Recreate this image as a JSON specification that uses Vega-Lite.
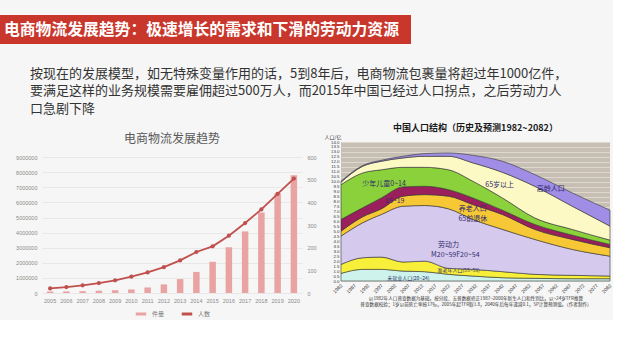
{
  "$schema": "https://vega.github.io/schema/vega-lite/v6.json",
  "background": "#f6f6f6",
  "padding": {"left": 0, "top": 15, "right": 0, "bottom": 0},
  "config": {
    "view": {"stroke": null},
    "font": "Liberation Sans",
    "axis": {"labelOverlap": false},
    "legend": {"layout": {"bottom": {"anchor": "middle"}}}
  },
  "spacing": 8,
  "resolve": {"scale": {"color": "independent"}, "legend": {"color": "independent"}},
  "vconcat": [
    {
      "width": 411,
      "height": 29,
      "view": {"fill": "#c9372c", "stroke": null},
      "data": {"values": [{"t": "电商物流发展趋势：极速增长的需求和下滑的劳动力资源"}]},
      "mark": {"type": "text", "align": "left", "baseline": "middle", "font": "Noto Sans CJK SC", "fontSize": 15.8, "fontWeight": "bold", "color": "#ffffff"},
      "encoding": {"text": {"field": "t"}, "x": {"value": 4}, "y": {"value": 15}}
    },
    {
      "width": 580,
      "height": 60,
      "data": {"values": [
        {"line": 1, "t": "按现在的发展模型，如无特殊变量作用的话，5到8年后，电商物流包裹量将超过年1000亿件，"},
        {"line": 2, "t": "要满足这样的业务规模需要雇佣超过500万人，而2015年中国已经过人口拐点，之后劳动力人"},
        {"line": 3, "t": "口急剧下降"}
      ]},
      "mark": {"type": "text", "align": "left", "baseline": "middle", "font": "Noto Sans CJK SC", "fontSize": 13, "lineHeight": 15, "color": "#333333"},
      "encoding": {
        "text": {"field": "t"},
        "x": {"value": 30},
        "y": {"field": "line", "type": "ordinal", "scale": {"type": "point", "range": [21.5, 56.5], "padding": 0}, "axis": null}
      }
    },
    {
      "spacing": 7,
      "resolve": {"scale": {"color": "independent"}, "legend": {"color": "independent"}},
      "hconcat": [
        {
          "width": 8,
          "height": 1,
          "data": {"values": []},
          "mark": "rect",
          "encoding": {}
        },
        {
          "width": 260,
          "height": 151,
          "title": {"text": "电商物流发展趋势", "font": "Noto Sans CJK SC", "fontSize": 12, "fontWeight": "normal", "color": "#595959", "offset": -4},
          "data": {"values": [
            {"year": "2005", "件量": 99000, "人数": 20},
            {"year": "2006", "件量": 106000, "人数": 26},
            {"year": "2007", "件量": 120000, "人数": 34},
            {"year": "2008", "件量": 151000, "人数": 44},
            {"year": "2009", "件量": 186000, "人数": 56},
            {"year": "2010", "件量": 234000, "人数": 72},
            {"year": "2011", "件量": 367000, "人数": 91},
            {"year": "2012", "件量": 569000, "人数": 114},
            {"year": "2013", "件量": 919000, "人数": 144},
            {"year": "2014", "件量": 1396000, "人数": 181},
            {"year": "2015", "件量": 2067000, "人数": 206},
            {"year": "2016", "件量": 3030000, "人数": 253},
            {"year": "2017", "件量": 4080000, "人数": 309},
            {"year": "2018", "件量": 5330000, "人数": 369},
            {"year": "2019", "件量": 6600000, "人数": 438},
            {"year": "2020", "件量": 7800000, "人数": 505}
          ]},
          "encoding": {
            "x": {
              "field": "year", "type": "ordinal", "title": null,
              "scale": {"paddingInner": 0.6, "paddingOuter": 0.3},
              "axis": {"labelAngle": 0, "labelFontSize": 5.5, "labelColor": "#8a8a8a", "ticks": false, "domain": false, "labelPadding": 5}
            }
          },
          "layer": [
            {
              "mark": {"type": "bar"},
              "encoding": {
                "y": {
                  "field": "件量", "type": "quantitative", "title": null,
                  "scale": {"domain": [0, 10000000], "nice": false},
                  "axis": {"values": [0, 1000000, 2000000, 3000000, 4000000, 5000000, 6000000, 7000000, 8000000, 9000000], "tickCount": 20, "format": "d", "labelFontSize": 5.5, "labelColor": "#8a8a8a", "ticks": false, "domain": false, "labelPadding": 5, "gridColor": "#e2e2e2", "gridWidth": 0.7}
                },
                "color": {
                  "datum": "件量", "type": "nominal",
                  "scale": {"domain": ["件量", "人数"], "range": ["#e8a3a2", "#c0504d"]},
                  "legend": {"title": null, "orient": "bottom", "direction": "horizontal", "symbolType": "stroke", "symbolStrokeWidth": 3, "symbolSize": 110, "labelFontSize": 6, "labelColor": "#777777", "labelFont": "Noto Sans CJK SC", "offset": 3, "columnPadding": 10}
                }
              }
            },
            {
              "mark": {"type": "line", "strokeWidth": 1.8, "point": {"filled": true, "size": 18}},
              "encoding": {
                "y": {
                  "field": "人数", "type": "quantitative", "title": null,
                  "scale": {"domain": [0, 666.67], "nice": false},
                  "axis": {"orient": "right", "values": [0, 100, 200, 300, 400, 500, 600], "tickCount": 20, "labelFontSize": 5.5, "labelColor": "#8a8a8a", "ticks": false, "domain": false, "labelPadding": 5, "grid": false}
                },
                "color": {"datum": "人数", "type": "nominal"}
              }
            }
          ],
          "resolve": {"scale": {"y": "independent"}}
        },
        {
          "width": 269,
          "height": 139,
          "view": {"fill": "#c7bfb3", "stroke": null},
          "title": {"text": "中国人口结构（历史及预测1982~2082）", "font": "Noto Sans CJK SC", "fontSize": 9, "fontWeight": "bold", "color": "#1a1a1a", "offset": 1, "frame": "group"},
          "layer": [
            {
              "data": {"values": [
                {"year": 1982, "c1": 0.77, "c2": 0.90, "c3": 2.85, "c4": 0.50, "c5": 1.18, "c6": 3.50, "c7": 0.25, "c8": 0.10},
                {"year": 1990, "c1": 1.17, "c2": 1.17, "c3": 3.52, "c4": 0.60, "c5": 0.91, "c6": 3.51, "c7": 0.67, "c8": 0.07},
                {"year": 1997, "c1": 1.17, "c2": 1.24, "c3": 4.29, "c4": 0.57, "c5": 1.10, "c6": 2.83, "c7": 0.86, "c8": 0.10},
                {"year": 2005, "c1": 1.00, "c2": 0.91, "c3": 5.62, "c4": 1.01, "c5": 0.94, "c6": 1.97, "c7": 0.94, "c8": 0.17},
                {"year": 2013, "c1": 0.94, "c2": 1.06, "c3": 5.60, "c4": 1.10, "c5": 0.84, "c6": 1.91, "c7": 1.11, "c8": 0.27},
                {"year": 2022, "c1": 0.67, "c2": 0.60, "c3": 6.00, "c4": 1.27, "c5": 0.66, "c6": 2.00, "c7": 1.36, "c8": 0.34},
                {"year": 2031, "c1": 0.50, "c2": 0.67, "c3": 5.03, "c4": 1.50, "c5": 0.67, "c6": 1.68, "c7": 1.85, "c8": 0.76},
                {"year": 2042, "c1": 0.33, "c2": 0.61, "c3": 4.26, "c4": 1.50, "c5": 0.43, "c6": 1.24, "c7": 2.58, "c8": 1.11},
                {"year": 2054, "c1": 0.27, "c2": 0.40, "c3": 3.52, "c4": 1.01, "c5": 0.50, "c6": 0.66, "c7": 3.18, "c8": 1.18},
                {"year": 2068, "c1": 0.23, "c2": 0.34, "c3": 2.61, "c4": 1.01, "c5": 0.43, "c6": 0.57, "c7": 2.34, "c8": 1.34},
                {"year": 2082, "c1": 0.23, "c2": 0.27, "c3": 2.00, "c4": 0.85, "c5": 0.33, "c6": 0.44, "c7": 1.41, "c8": 1.60}
              ]},
              "transform": [{"fold": ["c1", "c2", "c3", "c4", "c5", "c6", "c7", "c8"], "as": ["g", "v"]}],
              "mark": {"type": "area", "interpolate": "monotone", "stroke": "#333333", "strokeWidth": 0.6},
              "encoding": {
                "x": {
                  "field": "year", "type": "quantitative",
                  "scale": {"domain": [1982, 2082], "nice": false, "zero": false},
                  "axis": {
                    "values": [1982, 1987, 1992, 1997, 2002, 2007, 2012, 2017, 2022, 2027, 2032, 2037, 2042, 2047, 2052, 2057, 2062, 2067, 2072, 2077, 2082],
                    "tickCount": 40,
                    "format": "d", "labelAngle": -45, "labelAlign": "right", "labelBaseline": "middle", "labelFontSize": 5, "labelColor": "#333333", "ticks": false, "domain": false, "labelPadding": 3, "grid": false, "labelOverlap": false,
                    "title": ["以1982年人口普查数据为基础，按分段、五普数据修正1987~2000年新生人口和性别比，以~24岁TFR推算", "普查数据校验；1岁以前死亡率按17‰，2005年起TFR取1.8，2040年后每年递减0.1，5P计算预测值。（作者制作）"],
                    "titleFontSize": 4.6, "titleFont": "Noto Sans CJK SC", "titleColor": "#333333", "titleFontWeight": "normal", "titlePadding": 2, "titleLineHeight": 6
                  }
                },
                "y": {
                  "field": "v", "type": "quantitative", "stack": "zero",
                  "scale": {"domain": [0, 14], "nice": false},
                  "axis": {
                    "values": [0, 0.5, 1, 1.5, 2, 2.5, 3, 3.5, 4, 4.5, 5, 5.5, 6, 6.5, 7, 7.5, 8, 8.5, 9, 9.5, 10, 10.5, 11, 11.5, 12, 12.5, 13, 13.5, 14],
                    "tickCount": 40,
                    "format": ".1f", "labelFontSize": 4.4, "labelColor": "#333333", "ticks": false, "domain": false, "labelPadding": 2, "gridColor": "#e3ded6", "gridWidth": 0.8, "labelOverlap": false,
                    "title": "人口/亿", "titleAngle": 0, "titleAlign": "left", "titleBaseline": "bottom", "titleX": -17, "titleY": -3, "titleFontSize": 5, "titleFontWeight": "normal", "titleFont": "Noto Sans CJK SC", "titleColor": "#333333"
                  }
                },
                "color": {
                  "field": "g", "type": "nominal",
                  "scale": {"domain": ["c1", "c2", "c3", "c4", "c5", "c6", "c7", "c8"], "range": ["#cdf3ec", "#f7ef3a", "#d6c9ee", "#f6c836", "#9a1f5c", "#8bd13b", "#fdf9c4", "#a08de6"]},
                  "legend": null
                },
                "order": {"field": "g", "sort": "ascending"}
              }
            },
            {
              "data": {"values": [
                {"year": 1998, "v": 9.78, "t": "少年儿童0~14"},
                {"year": 2002, "v": 8.1, "t": "15~19"},
                {"year": 2031, "v": 7.25, "t": "养老人口"},
                {"year": 2031, "v": 6.2, "t": "65前退休"},
                {"year": 2041, "v": 9.7, "t": "65岁以上"},
                {"year": 2060, "v": 9.28, "t": "高龄人口"},
                {"year": 2022, "v": 3.65, "t": "劳动力"},
                {"year": 2024.5, "v": 2.65, "t": "M20~59F20~54"}
              ]},
              "mark": {"type": "text", "font": "Noto Sans CJK SC", "fontSize": 7, "color": "#2e2a6b"},
              "encoding": {
                "x": {"field": "year", "type": "quantitative"},
                "y": {"field": "v", "type": "quantitative"},
                "text": {"field": "t"}
              }
            },
            {
              "data": {"values": [
                {"year": 2025.7, "v": 1.07, "t": "准老年人口(55~59)"},
                {"year": 2007, "v": 0.3, "t": "未就业人口(20~24)"}
              ]},
              "mark": {"type": "text", "font": "Noto Sans CJK SC", "fontSize": 5, "color": "#2e2a6b"},
              "encoding": {
                "x": {"field": "year", "type": "quantitative"},
                "y": {"field": "v", "type": "quantitative"},
                "text": {"field": "t"}
              }
            }
          ]
        }
      ]
    }
  ]
}
